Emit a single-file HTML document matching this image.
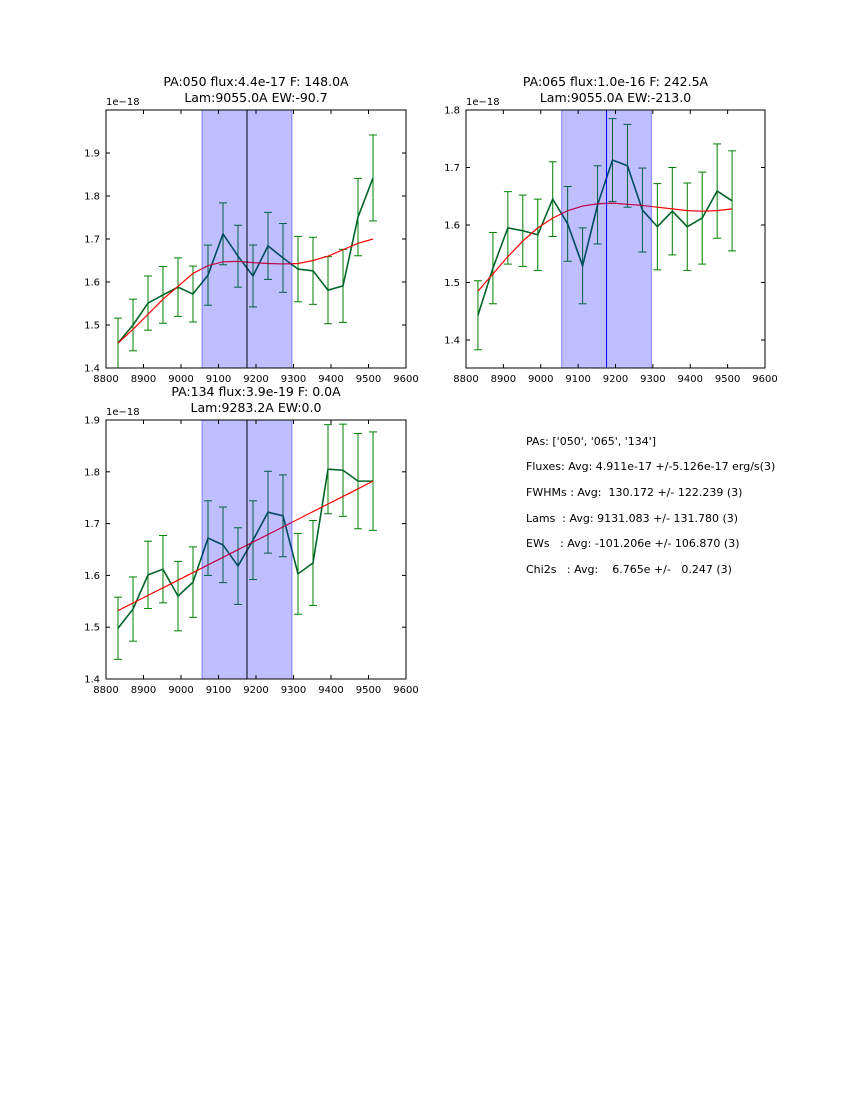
<!DOCTYPE html>
<html><head><meta charset="utf-8"><style>
body{margin:0;background:#fff;font-family:"Liberation Sans","DejaVu Sans",sans-serif;}
svg text{font-family:"DejaVu Sans","Liberation Sans",sans-serif;}
</style></head><body>
<svg id="fig" width="850" height="1100" xmlns="http://www.w3.org/2000/svg">
<rect width="850" height="1100" fill="#fff"/>
<g font-size="11" fill="#000">
<text x="526" y="445">PAs: ['050', '065', '134']</text>
<text x="526" y="470">Fluxes: Avg: 4.911e-17 +/-5.126e-17 erg/s(3)</text>
<text x="526" y="496" xml:space="preserve">FWHMs : Avg:  130.172 +/- 122.239 (3)</text>
<text x="526" y="522" xml:space="preserve">Lams  : Avg: 9131.083 +/- 131.780 (3)</text>
<text x="526" y="547" xml:space="preserve">EWs   : Avg: -101.206e +/- 106.870 (3)</text>
<text x="526" y="573" xml:space="preserve">Chi2s   : Avg:    6.765e +/-   0.247 (3)</text>
</g>
</svg>
<script>
const xs = [8832,8872,8912,8952,8992,9032,9072,9112,9152,9192,9232,9272,9312,9352,9392,9432,9472,9512];
const flux1 = [1.458,1.50,1.551,1.570,1.588,1.572,1.616,1.712,1.660,1.614,1.684,1.656,1.630,1.626,1.581,1.591,1.751,1.842];
const err1 = [0.058,0.06,0.063,0.066,0.068,0.065,0.07,0.072,0.072,0.072,0.078,0.08,0.076,0.078,0.078,0.085,0.09,0.1];
const fit1 = [1.458,1.49,1.525,1.56,1.59,1.62,1.638,1.647,1.648,1.645,1.643,1.642,1.643,1.65,1.66,1.675,1.69,1.70];
const flux2 = [1.443,1.525,1.595,1.590,1.583,1.645,1.602,1.529,1.635,1.713,1.703,1.626,1.597,1.624,1.597,1.612,1.659,1.642];
const err2 = [0.06,0.062,0.063,0.062,0.062,0.065,0.065,0.066,0.068,0.072,0.072,0.073,0.075,0.076,0.076,0.08,0.082,0.087];
const fit2 = [1.485,1.515,1.545,1.572,1.595,1.612,1.625,1.633,1.637,1.638,1.636,1.634,1.631,1.628,1.625,1.624,1.625,1.628];
const flux3 = [1.498,1.535,1.601,1.612,1.560,1.587,1.672,1.659,1.618,1.668,1.722,1.715,1.603,1.624,1.805,1.803,1.782,1.782];
const err3 = [0.06,0.062,0.065,0.065,0.067,0.068,0.072,0.073,0.074,0.076,0.079,0.079,0.078,0.082,0.086,0.089,0.092,0.095];
const fit3 = [1.532,1.5467,1.5614,1.5761,1.5908,1.6055,1.6202,1.6349,1.6496,1.6643,1.679,1.6937,1.7084,1.7231,1.7378,1.7525,1.7672,1.782];
const xTicks = [8800,8900,9000,9100,9200,9300,9400,9500,9600];
const band = [9056,9296];
const lineX = [9176,9176,9176];
const panels = [
 {name:'pa050',x0:106,y0:110,w:300,h:258,ymin:1.4,ymax:2.0,yt:[1.4,1.5,1.6,1.7,1.8,1.9],flux:flux1,err:err1,fit:fit1,vline:lineX[0],vcol:'#000',t1:'PA:050 flux:4.4e-17 F: 148.0A',t2:'Lam:9055.0A EW:-90.7'},
 {name:'pa065',x0:466,y0:110,w:299,h:258,ymin:1.3513,ymax:1.8,yt:[1.4,1.5,1.6,1.7,1.8],flux:flux2,err:err2,fit:fit2,vline:lineX[1],vcol:'#0000ff',t1:'PA:065 flux:1.0e-16 F: 242.5A',t2:'Lam:9055.0A EW:-213.0'},
 {name:'pa134',x0:106,y0:420,w:300,h:259,ymin:1.4,ymax:1.9,yt:[1.4,1.5,1.6,1.7,1.8,1.9],flux:flux3,err:err3,fit:fit3,vline:lineX[2],vcol:'#000',t1:'PA:134 flux:3.9e-19 F: 0.0A',t2:'Lam:9283.2A EW:0.0'}
];
const NS='http://www.w3.org/2000/svg';
const fig=document.getElementById('fig');
function mk(tag,attrs,parent){const e=document.createElementNS(NS,tag);for(const k in attrs)e.setAttribute(k,attrs[k]);parent.appendChild(e);return e;}
panels.forEach(p=>{
 const g=mk('g',{},fig);
 
 
 const sx=v=>p.x0+(v-8800)/800*p.w;
 const sy=v=>p.y0+p.h-(v-p.ymin)/(p.ymax-p.ymin)*p.h;
 const cx=p.x0+p.w/2;
 const t1=mk('text',{x:cx,y:p.y0-24,'text-anchor':'middle','font-size':'12.5'},g);t1.textContent=p.t1;
 
 
 const t2=mk('text',{x:cx,y:p.y0-8,'text-anchor':'middle','font-size':'12.5'},g);t2.textContent=p.t2;
 
 
 const eb=mk('g',{stroke:'#008000','stroke-width':1},g);
 
 
 xs.forEach((x,i)=>{const X=sx(x),a=sy(p.flux[i]-p.err[i]),b=sy(p.flux[i]+p.err[i]);
  mk('line',{x1:X,x2:X,y1:a,y2:b},eb);mk('line',{x1:X-4,x2:X+4,y1:a,y2:a},eb);mk('line',{x1:X-4,x2:X+4,y1:b,y2:b},eb);});
 const dl=mk('polyline',{points:xs.map((x,i)=>sx(x)+','+sy(p.flux[i])).join(' '),fill:'none',stroke:'#006428','stroke-width':1.6},g);
 
 
 const fl=mk('polyline',{points:xs.map((x,i)=>sx(x)+','+sy(p.fit[i])).join(' '),fill:'none',stroke:'#ff0000','stroke-width':1.2},g);
 
 
 const bd=mk('rect',{x:sx(band[0]),y:p.y0,width:sx(band[1])-sx(band[0]),height:p.h,fill:'#0000ff','fill-opacity':0.25,stroke:'#0000ff','stroke-opacity':0.4},g);
 
 
 const vl=mk('line',{x1:sx(p.vline),x2:sx(p.vline),y1:p.y0,y2:p.y0+p.h,stroke:p.vcol,'stroke-width':1},g);
 
 
 const fr=mk('rect',{x:p.x0,y:p.y0,width:p.w,height:p.h,fill:'none',stroke:'#000','stroke-width':1},g);
 
 
 xTicks.forEach(t=>{const X=sx(t);
  mk('line',{x1:X,x2:X,y1:p.y0+p.h,y2:p.y0+p.h-4,stroke:'#000'},g);mk('line',{x1:X,x2:X,y1:p.y0,y2:p.y0+4,stroke:'#000'},g);
  const tt=mk('text',{x:X,y:p.y0+p.h+14,'text-anchor':'middle','font-size':'10'},g);tt.textContent=t;
  
  });
 p.yt.forEach(t=>{const Y=sy(t);
  mk('line',{x1:p.x0,x2:p.x0+4,y1:Y,y2:Y,stroke:'#000'},g);mk('line',{x1:p.x0+p.w,x2:p.x0+p.w-4,y1:Y,y2:Y,stroke:'#000'},g);
  const tt=mk('text',{x:p.x0-6,y:Y+3.5,'text-anchor':'end','font-size':'10'},g);tt.textContent=t.toFixed(1);
  
  });
 const off=mk('text',{x:p.x0,y:p.y0-5,'font-size':'10'},g);off.textContent='1e\u221218';
 
 
});
</script>
</body></html>
